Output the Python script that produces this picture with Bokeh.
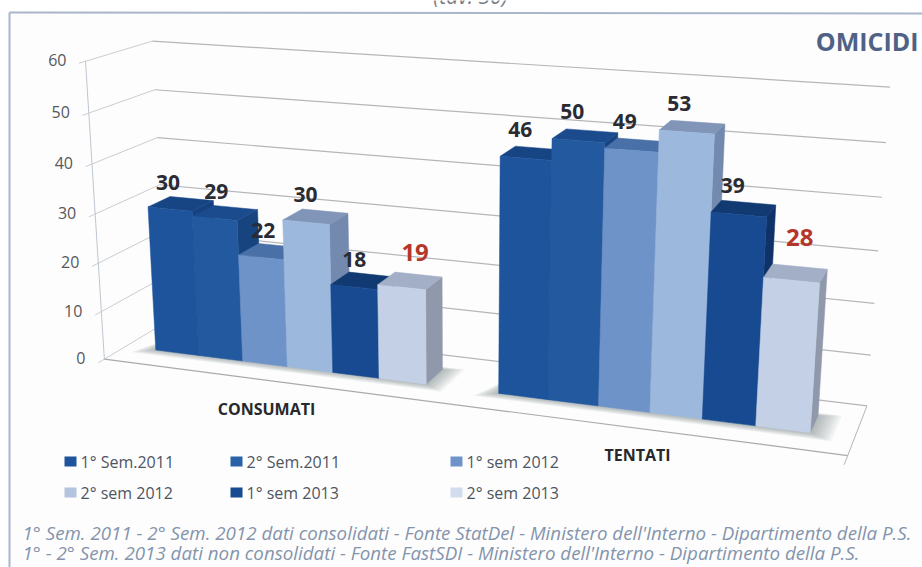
import numpy as np
from bokeh.plotting import figure
from bokeh.models import Range1d
from bokeh.core.properties import value
from bokeh.embed import file_html
from bokeh.resources import INLINE

# ---- data ----
categories = ["CONSUMATI", "TENTATI"]
series = ["1° Sem.2011", "2° Sem.2011", "1° sem 2012", "2° sem 2012", "1° sem 2013", "2° sem 2013"]
consumati = [30, 29, 22, 30, 18, 19]
tentati = [46, 50, 49, 53, 39, 28]
y_ticks = [0, 10, 20, 30, 40, 50, 60]

# ---- styles ----
front_cols = ["#1E549C", "#235A9F", "#6E93C8", "#9DB8DD", "#174A90", "#C3D0E6"]
top_cols = ["#174584", "#1B4B8D", "#4A70A8", "#8095B8", "#123A72", "#A3AFC6"]
side_cols = ["#164080", "#17447F", "#466A9E", "#7389AD", "#0F3268", "#9098AB"]
label_cols = ["#2B2B33"] * 5 + ["#B5372C"]
label_size = ["21px"] * 5 + ["24px"]
nudge_x = [[-13, -9, -8, -10, -9, 5], [-13, -13, -13, -13, -11, 4]]
nudge_y = [[-21, -21, -21, -22, -21, -28], [-24, -24, -24, -24, -23, -36]]

# ---- 3D camera: (s along categories 0-1, d depth 0-1, v value) -> page pixels ----
corners = [((0, 0, 0), (103, 357)), ((1, 0, 0), (848, 454)), ((0, 1, 0), (167, 323)), ((1, 1, 0), (866, 406)),
           ((0, 0, 60), (85, 59)), ((1, 0, 60), (871, 119)), ((0, 1, 60), (152, 42)), ((1, 1, 60), (889, 82))]
A, B = [], []
for (s, d, v), (u, w) in corners:
    A.append([s, d, v, 1, 0, 0, 0, 0, -u * s, -u * d, -u * v]); B.append(u)
    A.append([0, 0, 0, 0, s, d, v, 1, -w * s, -w * d, -w * v]); B.append(w)
P = np.linalg.lstsq(np.array(A, float), np.array(B, float), rcond=None)[0]


def proj(s, d, v):
    den = P[8] * s + P[9] * d + P[10] * v + 1
    return (float((P[0] * s + P[1] * d + P[2] * v + P[3]) / den), float((P[4] * s + P[5] * d + P[6] * v + P[7]) / den))


p = figure(width=922, height=567, output_backend="svg", toolbar_location=None, min_border=0,
           x_range=Range1d(0, 922), y_range=Range1d(567, 0), x_axis_type="linear",
           background_fill_color="#FDFDFD", border_fill_color="#FFFFFF", outline_line_color=None)
p.styles = {"position": "absolute", "left": "0px", "top": "0px"}
p.axis.visible = False
p.grid.visible = False


def seg(a, b, color, width=1.0):
    p.line([a[0], b[0]], [a[1], b[1]], line_color=color, line_width=width)


# page frame
p.quad(left=[0], right=[8], top=[0], bottom=[567], fill_color="#FFFFFF", line_color=None)
p.quad(left=[0], right=[922], top=[0], bottom=[12], fill_color="#FFFFFF", line_color=None)
p.line([9, 922], [12, 13], line_color="#A9B6C8", line_width=2)
p.line([9, 9], [12, 567], line_color="#A9B6C8", line_width=2)

# walls and floor
for t in y_ticks:
    seg(proj(0, -0.09, t), proj(0, 1, t), "#C9CDD2")
    seg(proj(0, 1, t), proj(1, 1, t), "#B4B6BA", 1.2)
seg(proj(0, 0, 0), proj(0, 0, 60), "#BFC6CF")
seg(proj(1, 1, 0), proj(1, 0, 0), "#B4B6BA")
seg(proj(0, 0, 0), proj(1, 0, 0), "#A8AAAE", 1.2)
seg(proj(1, 0, 0), proj(1, -0.17, 0), "#B4B6BA")

# bars
gap_bars = 1.5
n_cat, n_ser = len(categories), len(series)
bar_w = (1 / n_cat) / (n_ser + gap_bars)
d0, d1 = 0.33, 0.68
shift = -0.003
labels = []
for ci, vals in enumerate([consumati, tentati]):
    start = ci / n_cat + gap_bars / 2 * bar_w + shift
    # soft floor shadow
    for k in range(8):
        g = 0.0035 * (k + 1)
        sa, sb = start, start + n_ser * bar_w + g
        pts = [proj(sa - g, d0 - g * 4, 0), proj(sb, d0 - g * 4, 0), proj(sb, d1 + g * 2, 0), proj(sa, d1 + g * 2, 0)]
        p.patch([q[0] for q in pts], [q[1] for q in pts], fill_color="#6A6E78", fill_alpha=0.07, line_color=None)
    for si, val in enumerate(vals):
        a, b = start + si * bar_w, start + (si + 1) * bar_w
        faces = [([(b, d0, 0), (b, d1, 0), (b, d1, val), (b, d0, val)], side_cols[si]),
                 ([(a, d0, val), (b, d0, val), (b, d1, val), (a, d1, val)], top_cols[si]),
                 ([(a, d0, 0), (b, d0, 0), (b, d0, val), (a, d0, val)], front_cols[si])]
        for pts3, col in faces:
            pts = [proj(*q) for q in pts3]
            p.patch([q[0] for q in pts], [q[1] for q in pts], fill_color=col, line_color=col, line_width=0.5)
        labels.append(((a + b) / 2, val, si, ci))

# value labels
for sc, val, si, ci in labels:
    x, y = proj(sc, (d0 + d1) / 2, val)
    p.text([x + nudge_x[ci][si]], [y + nudge_y[ci][si]], text=[str(val)], text_color=label_cols[si],
           text_align="center", text_baseline="middle",
           text_font=value("Open Sans"), text_font_style="bold", text_font_size=label_size[si])

# y tick labels
for t in y_ticks:
    x, y = proj(0, 0, t)
    p.text([x - 19], [y - 1], text=[str(t)], text_color="#55585E", text_align="right", text_baseline="middle",
           text_font=value("Open Sans"), text_font_size="16px")

# category labels
p.text([266, 637], [408, 454], text=categories, text_color="#26282C", text_align="center", text_baseline="middle",
       text_font=value("Open Sans"), text_font_style="bold", text_font_size="16px")

# title and header
p.text([918], [40], text=["OMICIDI"], text_color="#4F6286", text_align="right", text_baseline="middle",
       text_font=value("Open Sans"), text_font_style="bold", text_font_size="25px")
p.text([470], [3], text=["(tav. 30)"], text_color="#777C84", text_align="center", text_baseline="middle",
       text_font=value("Open Sans"), text_font_style="italic", text_font_size="21px",
       y_offset=-8)

# legend
leg_x = [64, 230, 450, 64, 230, 450]
leg_y = [461, 461, 461, 492, 492, 492]
leg_front = ["#1E549C", "#2A62A8", "#6E93C8", "#B4C4DE", "#174A90", "#D3DCEC"]
for lx, ly, name, col in zip(leg_x, leg_y, series, leg_front):
    p.quad(left=[lx], right=[lx + 12], top=[ly - 5], bottom=[ly + 5], fill_color=col, line_color=None)
    p.text([lx + 16], [ly], text=[name], text_color="#4E5562", text_align="left", text_baseline="middle",
           text_font=value("Open Sans"), text_font_size="16px")

# notes
notes = ["1° Sem. 2011 - 2° Sem. 2012 dati consolidati - Fonte StatDel - Ministero dell'Interno - Dipartimento della P.S.",
         "1° - 2° Sem. 2013 dati non consolidati - Fonte FastSDI - Ministero dell'Interno - Dipartimento della P.S."]
p.text([22, 22], [532, 552], text=notes, text_color="#8494AC", text_align="left", text_baseline="middle",
       text_font=value("Open Sans"), text_font_style="italic", text_font_size="18.75px")

open("out.html", "w").write(file_html(p, INLINE))
